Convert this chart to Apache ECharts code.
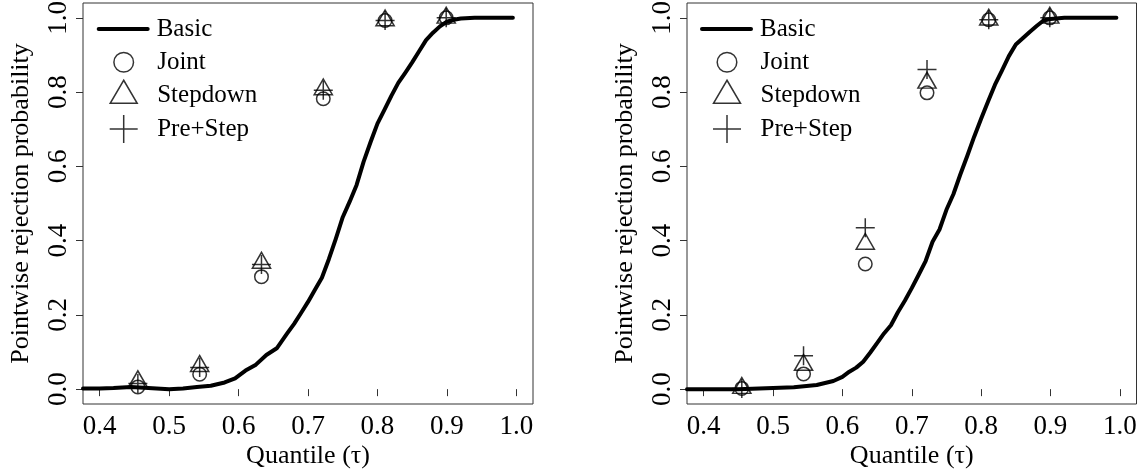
<!DOCTYPE html>
<html>
<head>
<meta charset="utf-8">
<script src="https://cdn.jsdelivr.net/npm/echarts@6/dist/echarts.min.js"></script>
<style>
html,body{margin:0;padding:0;background:#fff;}
#chart{width:1143px;height:472px;}
</style>
</head>
<body>
<div id="chart"></div>
<script>
// ---------- data ----------
const xTicks = [0.4, 0.5, 0.6, 0.7, 0.8, 0.9, 1.0];
const yTicks = [0.0, 0.2, 0.4, 0.6, 0.8, 1.0];
const seriesNames = ['Basic', 'Joint', 'Stepdown', 'Pre+Step'];

const basicTau1 = [0.376,0.40,0.42,0.445,0.47,0.50,0.52,0.54,0.56,0.58,0.595,0.61,0.625,0.64,0.655,0.67,0.68,0.69,0.70,0.71,0.72,0.73,0.74,0.75,0.76,0.77,0.78,0.79,0.80,0.81,0.82,0.83,0.84,0.85,0.86,0.87,0.88,0.89,0.90,0.91,0.92,0.94,0.96,0.995];
const basicProb1 = [0.002,0.002,0.003,0.006,0.003,0.000,0.002,0.006,0.009,0.018,0.029,0.050,0.066,0.092,0.110,0.150,0.176,0.205,0.235,0.268,0.300,0.350,0.405,0.463,0.505,0.550,0.612,0.665,0.715,0.752,0.790,0.825,0.852,0.880,0.910,0.940,0.960,0.977,0.990,0.995,0.998,1.0,1.0,1.0];

const basicTau2 = [0.376,0.40,0.45,0.48,0.50,0.53,0.563,0.587,0.60,0.61,0.62,0.63,0.64,0.65,0.66,0.67,0.68,0.69,0.70,0.71,0.72,0.73,0.74,0.75,0.76,0.77,0.78,0.79,0.80,0.81,0.82,0.83,0.84,0.85,0.86,0.87,0.88,0.89,0.90,0.92,0.995];
const basicProb2 = [0.0,0.0,0.0,0.002,0.003,0.005,0.011,0.022,0.033,0.047,0.058,0.074,0.098,0.124,0.150,0.172,0.207,0.238,0.272,0.308,0.345,0.397,0.430,0.483,0.525,0.578,0.628,0.680,0.728,0.775,0.820,0.858,0.897,0.928,0.945,0.962,0.978,0.993,0.997,1.0,1.0];

const pointTau = [0.455, 0.544, 0.633, 0.722, 0.811, 0.899];
const joint1    = [0.006, 0.040, 0.303, 0.782, 0.993, 1.0];
const stepdown1 = [0.021, 0.062, 0.340, 0.807, 0.993, 1.0];
const preStep1  = [0.015, 0.058, 0.336, 0.805, 0.993, 1.0];
const joint2    = [0.002, 0.041, 0.337, 0.798, 0.995, 1.0];
const stepdown2 = [0.003, 0.065, 0.391, 0.825, 0.995, 1.0];
const preStep2  = [0.002, 0.090, 0.435, 0.861, 0.995, 1.0];

// ---------- styles ----------
const FONT = 'Liberation Serif';
const zip = (xs, ys) => xs.map((x, i) => [x, ys[i]]);

const legendIcons = {
  'Joint': 'path://M0 0M49 32M14.7 16A9.8 9.8 0 1 1 34.3 16A9.8 9.8 0 1 1 14.7 16Z',
  'Stepdown': 'path://M0 0M49 32M24.5 0.7L38 23.7L11 23.7Z',
  'Pre+Step': 'path://M0 0M49 32M10.5 16L38.5 16M24.5 2L24.5 30'
};
const legendRowCenters = [26.7, 61, 94.3, 127.7];
const plusSymbol = 'path://M0 5L10 5M5 0L5 10';

const markerStyle = {color: 'none', borderColor: '#000', borderWidth: 1.5};

function xAxis(idx) {
  return {
    type: 'value', gridIndex: idx, min: 0.376, max: 1.024,
    axisLine: {show: false},
    splitLine: {show: false},
    axisTick: {show: true, inside: false, length: 7, customValues: xTicks, lineStyle: {color: '#333', width: 1}},
    axisLabel: {customValues: xTicks, formatter: v => v.toFixed(1), fontFamily: FONT, fontSize: 27, color: '#000', margin: 9},
    name: 'Quantile (\u03c4)', nameLocation: 'middle', nameGap: 39, nameMoveOverlap: false,
    nameTextStyle: {fontFamily: FONT, fontSize: 26, color: '#000'}
  };
}
function yAxis(idx) {
  return {
    type: 'value', gridIndex: idx, min: -0.04, max: 1.04,
    axisLine: {show: false},
    splitLine: {show: false},
    axisTick: {show: true, inside: false, length: 7, customValues: yTicks, lineStyle: {color: '#333', width: 1}},
    axisLabel: {customValues: yTicks, formatter: v => v.toFixed(1), fontFamily: FONT, fontSize: 27, color: '#000', margin: 11, rotate: 90},
    name: 'Pointwise rejection probability', nameLocation: 'middle', nameGap: 49, nameMoveOverlap: false,
    nameTextStyle: {fontFamily: FONT, fontSize: 26, color: '#000'}
  };
}
function panelSeries(idx, tau, prob, j, s, p) {
  return [
    {name: 'Basic', type: 'line', xAxisIndex: idx, yAxisIndex: idx, data: zip(tau, prob),
     symbol: 'none', lineStyle: {color: '#000', width: 4, cap: 'round', join: 'round'}, itemStyle: {color: '#000'}, z: 2, animation: false},
    {name: 'Joint', type: 'scatter', xAxisIndex: idx, yAxisIndex: idx, data: zip(pointTau, j),
     symbol: 'circle', symbolSize: 13.5, itemStyle: markerStyle, z: 3, animation: false},
    {name: 'Stepdown', type: 'scatter', xAxisIndex: idx, yAxisIndex: idx, data: zip(pointTau, s),
     symbol: 'triangle', symbolSize: [18.2, 15.8], symbolOffset: [0, -2.6], itemStyle: markerStyle, z: 3, animation: false},
    {name: 'Pre+Step', type: 'scatter', xAxisIndex: idx, yAxisIndex: idx, data: zip(pointTau, p),
     symbol: plusSymbol, symbolSize: 19, itemStyle: markerStyle, z: 3, animation: false}
  ];
}
// one legend component per row, so each row sits at its own measured height
function legendRows(left) {
  return seriesNames.map((name, i) => {
    const item = {name: name};
    let off = 17.25;
    if (legendIcons[name]) item.icon = legendIcons[name];
    else { item.itemStyle = {opacity: 0}; off = 10.5; }
    return {
      orient: 'vertical', left: left, top: legendRowCenters[i] - off, padding: 0,
      itemWidth: 49, itemHeight: 32, itemGap: 0,
      selectedMode: false,
      textStyle: {fontFamily: FONT, fontSize: 25, color: '#000', padding: [0, 0, 0, 4]},
      itemStyle: {borderWidth: 1.5},
      lineStyle: {width: 4},
      data: [item]
    };
  });
}

const chart = echarts.init(document.getElementById('chart'), null, {renderer: 'canvas'});
chart.setOption({
  animation: false,
  backgroundColor: '#fff',
  grid: [
    {left: 83, top: 3, width: 450, height: 401, show: true, borderColor: '#333', borderWidth: 1, backgroundColor: 'transparent', outerBoundsMode: 'none', containLabel: false},
    {left: 687, top: 3, width: 449.5, height: 401, show: true, borderColor: '#333', borderWidth: 1, backgroundColor: 'transparent', outerBoundsMode: 'none', containLabel: false}
  ],
  xAxis: [xAxis(0), xAxis(1)],
  yAxis: [yAxis(0), yAxis(1)],
  legend: legendRows(96.7).concat(legendRows(700)),
  series: [].concat(
    panelSeries(0, basicTau1, basicProb1, joint1, stepdown1, preStep1),
    panelSeries(1, basicTau2, basicProb2, joint2, stepdown2, preStep2)
  )
});
</script>
</body>
</html>
